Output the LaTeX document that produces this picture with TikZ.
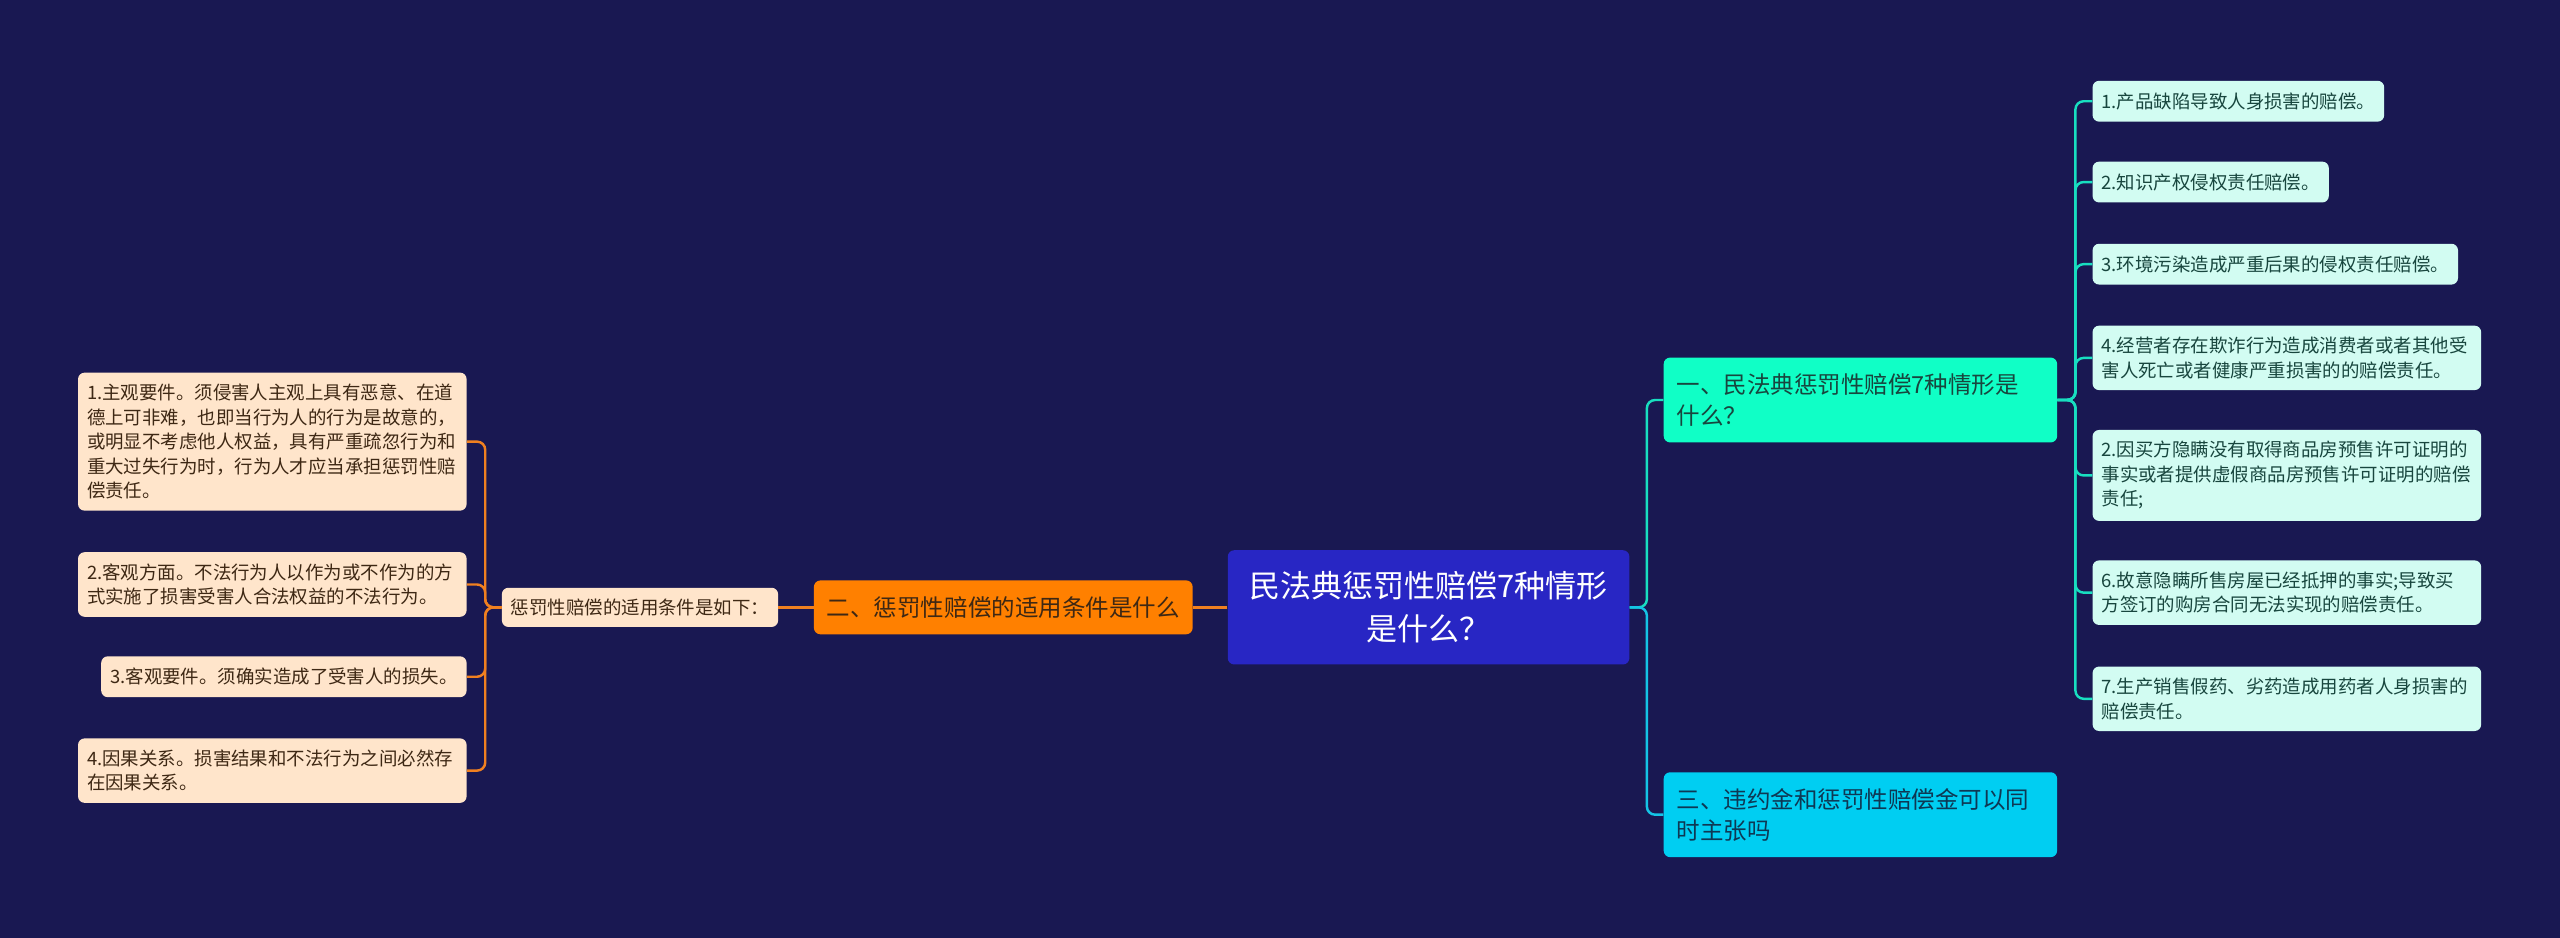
\documentclass[tikz,border=0pt]{standalone}
\usepackage{fontspec}
\usepackage{xcolor}
\usepackage{tikz}
\usetikzlibrary{positioning}
\newfontfamily\cjk{Noto Sans CJK SC}
\definecolor{bgnavy}{RGB}{25, 24, 82}
\definecolor{rootblue}{RGB}{40, 38, 196}
\definecolor{orangefill}{RGB}{255, 128, 0}
\definecolor{peach}{RGB}{255, 229, 203}
\definecolor{aqua}{RGB}{16, 255, 198}
\definecolor{skycyan}{RGB}{0, 206, 242}
\definecolor{mint}{RGB}{210, 252, 242}
\definecolor{browntext}{RGB}{62, 40, 20}
\definecolor{tealtext}{RGB}{24, 70, 62}
\definecolor{bluetext}{RGB}{14, 56, 84}
\definecolor{linkorange}{RGB}{240, 128, 32}
\definecolor{linkaqua}{RGB}{24, 222, 192}
\definecolor{linkcyan}{RGB}{20, 196, 230}
\tikzset{
    rootnode/.style = {rectangle, fill=rootblue, rounded corners=4bp, text=white, 
      font=\cjk\fontsize{19bp}{26bp}\selectfont, text width=232bp, minimum height=70bp, 
      inner xsep=7bp, node distance=0em, align=center},
    branchnode/.style = {rectangle, rounded corners=4bp, font=\cjk\fontsize{14.4bp}{19bp}\selectfont, 
      inner xsep=8bp, minimum height=33bp, node distance=0em},
    topicnode/.style = {branchnode, text width=225bp, minimum height=52bp, align=left},
    leafnode/.style = {rectangle, rounded corners=4bp, font=\cjk\fontsize{11.3bp}{15bp}\selectfont, 
      inner xsep=5.5bp, inner ysep=7bp, minimum height=25bp, node distance=0em, align=left},
    wideleafnode/.style = {leafnode, text width=227bp},
    peachnode/.style = {fill=peach, text=browntext},
    mintnode/.style = {fill=mint, text=tealtext},
    orangelink/.style = {draw=linkorange, line width=1.5bp, rounded corners=5bp},
    aqualink/.style = {draw=linkaqua, line width=1.5bp, rounded corners=5bp},
    cyanlink/.style = {draw=linkcyan, line width=1.5bp, rounded corners=5bp}
}

\begin{document}
\begin{tikzpicture}
    \fill[bgnavy] (0,0) rectangle (1568bp,-574.5bp);

    \node[rootnode, name=Root] at (875bp,-372bp) {民法典惩罚性赔偿7种情形\\是什么？};

    \node[topicnode, name=Situations, right of = Root, xshift=264.5bp, yshift=127bp, fill=aqua, text=tealtext] {一、民法典惩罚性赔偿7种情形是\\什么？};
    \node[branchnode, name=Conditions, left of = Root, xshift=-260.5bp, fill=orangefill, text=browntext] {二、惩罚性赔偿的适用条件是什么};
    \node[topicnode, name=Cumulation, right of = Root, xshift=264.5bp, yshift=-127bp, fill=skycyan, text=bluetext] {三、违约金和惩罚性赔偿金可以同\\时主张吗};

    \node[leafnode, peachnode, name=CondList, left of = Conditions, xshift=-222.5bp, inner ysep=5bp, minimum height=24bp] {惩罚性赔偿的适用条件是如下：};

    \node[wideleafnode, peachnode, name=cond-1, left of = CondList, xshift=-106bp, yshift=101.5bp, anchor=east] {1.主观要件。须侵害人主观上具有恶意、在道\\德上可非难，也即当行为人的行为是故意的，\\或明显不考虑他人权益，具有严重疏忽行为和\\重大过失行为时，行为人才应当承担惩罚性赔\\偿责任。};
    \node[wideleafnode, peachnode, name=cond-2, left of = CondList, xshift=-106bp, yshift=14bp, anchor=east] {2.客观方面。不法行为人以作为或不作为的方\\式实施了损害受害人合法权益的不法行为。};
    \node[leafnode, peachnode, name=cond-3, left of = CondList, xshift=-106bp, yshift=-42.5bp, anchor=east] {3.客观要件。须确实造成了受害人的损失。};
    \node[wideleafnode, peachnode, name=cond-4, left of = CondList, xshift=-106bp, yshift=-100bp, anchor=east] {4.因果关系。损害结果和不法行为之间必然存\\在因果关系。};

    \node[leafnode, mintnode, name=case-1, right of = Situations, xshift=142bp, yshift=183bp, anchor=west] {1.产品缺陷导致人身损害的赔偿。};
    \node[leafnode, mintnode, name=case-2, right of = Situations, xshift=142bp, yshift=133.5bp, anchor=west] {2.知识产权侵权责任赔偿。};
    \node[leafnode, mintnode, name=case-3, right of = Situations, xshift=142bp, yshift=83.2bp, anchor=west] {3.环境污染造成严重后果的侵权责任赔偿。};
    \node[wideleafnode, mintnode, name=case-4, right of = Situations, xshift=142bp, yshift=25.8bp, anchor=west] {4.经营者存在欺诈行为造成消费者或者其他受\\害人死亡或者健康严重损害的的赔偿责任。};
    \node[wideleafnode, mintnode, name=case-5, right of = Situations, xshift=142bp, yshift=-46.2bp, anchor=west] {2.因买方隐瞒没有取得商品房预售许可证明的\\事实或者提供虚假商品房预售许可证明的赔偿\\责任;};
    \node[wideleafnode, mintnode, name=case-6, right of = Situations, xshift=142bp, yshift=-118bp, anchor=west] {6.故意隐瞒所售房屋已经抵押的事实;导致买\\方签订的购房合同无法实现的赔偿责任。};
    \node[wideleafnode, mintnode, name=case-7, right of = Situations, xshift=142bp, yshift=-183bp, anchor=west] {7.生产销售假药、劣药造成用药者人身损害的\\赔偿责任。};

    \draw[orangelink] (Root.west) -- (Conditions.east);
    \draw[orangelink] (Conditions.west) -- (CondList.east);
    \draw[orangelink] (CondList.west) -- ++(-10bp,0) |- (cond-1.east);
    \draw[orangelink] (CondList.west) -- ++(-10bp,0) |- (cond-2.east);
    \draw[orangelink] (CondList.west) -- ++(-10bp,0) |- (cond-3.east);
    \draw[orangelink] (CondList.west) -- ++(-10bp,0) |- (cond-4.east);

    \draw[aqualink] (Root.east) -- ++(10.5bp,0) |- (Situations.west);
    \draw[cyanlink] (Root.east) -- ++(10.5bp,0) |- (Cumulation.west);

    \draw[aqualink] (Situations.east) -- ++(11bp,0) |- (case-1.west);
    \draw[aqualink] (Situations.east) -- ++(11bp,0) |- (case-2.west);
    \draw[aqualink] (Situations.east) -- ++(11bp,0) |- (case-3.west);
    \draw[aqualink] (Situations.east) -- ++(11bp,0) |- (case-4.west);
    \draw[aqualink] (Situations.east) -- ++(11bp,0) |- (case-5.west);
    \draw[aqualink] (Situations.east) -- ++(11bp,0) |- (case-6.west);
    \draw[aqualink] (Situations.east) -- ++(11bp,0) |- (case-7.west);
\end{tikzpicture}
\end{document}
